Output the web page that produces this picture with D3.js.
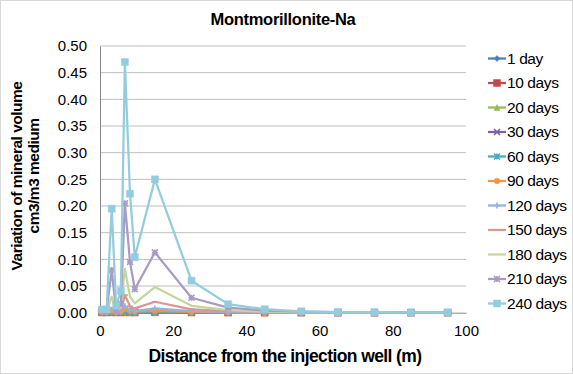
<!DOCTYPE html>
<html>
<head>
<meta charset="utf-8">
<script src="https://cdn.jsdelivr.net/npm/d3@7"></script>
<style>
  html, body { margin: 0; padding: 0; background: #fff; }
  svg { display: block; font-family: "Liberation Sans", Arial, sans-serif; }
</style>
</head>
<body>
<svg id="chart" width="573" height="374"></svg>
<script>
// Distance of each grid cell centre from the injection well (m)
const distance = [0.5, 1.8, 3.2, 4.4, 5.7, 6.8, 8.2, 9.5, 15, 25, 35, 45, 55, 65, 75, 85, 95];

// Variation of montmorillonite-Na volume (cm3/m3 medium) per elapsed time
const day1    = [0.0005, 0.0005, 0.0008, 0.0005, 0.0006, 0.0008, 0.0006, 0.0005, 0.0006, 0.0003, 0.0002, 0.0001, 0.0001, 0, 0, 0, 0];
const days10  = [0.0006, 0.0006, 0.001, 0.0006, 0.0008, 0.001, 0.0008, 0.0006, 0.0008, 0.0004, 0.0002, 0.0001, 0.0001, 0, 0, 0, 0];
const days20  = [0.0008, 0.0008, 0.0015, 0.0008, 0.001, 0.0015, 0.001, 0.0008, 0.001, 0.0005, 0.0002, 0.0001, 0, 0, 0, 0, 0];
const days30  = [0.001, 0.001, 0.002, 0.001, 0.0015, 0.0025, 0.0015, 0.001, 0.0015, 0.0006, 0.0003, 0.0001, 0.0001, 0, 0, 0, 0];
const days60  = [0.001, 0.001, 0.003, 0.001, 0.002, 0.004, 0.002, 0.0015, 0.002, 0.001, 0.0004, 0.0002, 0.0001, 0, 0, 0, 0];
const days90  = [0.001, 0.001, 0.004, 0.001, 0.002, 0.007, 0.003, 0.002, 0.0035, 0.0015, 0.0006, 0.0003, 0.0001, 0, 0, 0, 0];
const days120 = [0.0015, 0.0015, 0.005, 0.001, 0.003, 0.012, 0.005, 0.003, 0.008, 0.003, 0.001, 0.0005, 0.0002, 0.0001, 0, 0, 0];
const days150 = [0.002, 0.002, 0.008, 0.001, 0.004, 0.033, 0.012, 0.008, 0.0205, 0.0064, 0.003, 0.0015, 0.0008, 0.0004, 0.0002, 0.0001, 0.0001];
const days180 = [0.003, 0.003, 0.03, 0.002, 0.01, 0.082, 0.03, 0.0176, 0.048, 0.013, 0.005, 0.002, 0.001, 0.0005, 0.0003, 0.0002, 0.0001];
const days210 = [0.004, 0.004, 0.08, 0.003, 0.017, 0.205, 0.095, 0.044, 0.113, 0.028, 0.0094, 0.004, 0.002, 0.001, 0.0006, 0.0003, 0.0002];
const days240 = [0.006, 0.006, 0.195, 0.013, 0.041, 0.47, 0.223, 0.104, 0.25, 0.06, 0.016, 0.0065, 0.0026, 0.0012, 0.001, 0.0006, 0.0005];

const seriesNames = ["1 day", "10 days", "20 days", "30 days", "60 days", "90 days",
                     "120 days", "150 days", "180 days", "210 days", "240 days"];
const seriesValues = [day1, days10, days20, days30, days60, days90,
                      days120, days150, days180, days210, days240];
const seriesColors = ["#4A7EBB", "#BE4B48", "#98B954", "#7D60A0", "#46AAC5", "#F69240",
                      "#95B3D7", "#D99694", "#C3D69B", "#A99BC6", "#93CDDD"];
const seriesMarkers = ["diamond", "square", "triangle", "cross", "asterisk", "circle",
                       "plus", "dash", "none", "star", "square"];

const xTicks = [0, 20, 40, 60, 80, 100];
const yTicks = [0, 0.05, 0.10, 0.15, 0.20, 0.25, 0.30, 0.35, 0.40, 0.45, 0.50];

const svg = d3.select("#chart");
const W = 573, H = 374;
const plot = { left: 100, right: 466, top: 46, bottom: 312.7 };

// Chart-area frame
svg.append("rect")
  .attr("x", 0.5).attr("y", 0.5).attr("width", W - 1).attr("height", H - 1)
  .attr("fill", "#fff").attr("stroke", "#D9D9D9");

const x = d3.scaleLinear().domain([0, 100]).range([plot.left, plot.right]);
const y = d3.scaleLinear().domain([0, 0.5]).range([plot.bottom, plot.top]);

// Horizontal gridlines
svg.append("g")
  .selectAll("line")
  .data(yTicks.filter(t => t > 0))
  .join("line")
  .attr("x1", plot.left).attr("x2", plot.right)
  .attr("y1", d => y(d)).attr("y2", d => y(d))
  .attr("stroke", "#BFBFBF").attr("stroke-width", 1);

// Y axis
const yAxis = svg.append("g")
  .attr("transform", `translate(${plot.left},0)`)
  .call(d3.axisLeft(y).tickValues(yTicks).tickFormat(d3.format(".2f")).tickSize(0).tickPadding(13));
yAxis.select(".domain").attr("stroke", "#868686");
yAxis.selectAll("text").attr("font-size", 15).attr("fill", "#000")
  .attr("font-family", "Liberation Sans, Arial, sans-serif");

// X axis
const xAxis = svg.append("g")
  .attr("transform", `translate(0,${plot.bottom})`)
  .call(d3.axisBottom(x).tickValues(xTicks).tickFormat(d3.format("d")).tickSize(0).tickPadding(13));
xAxis.select(".domain").attr("stroke", "#868686");
xAxis.selectAll("text").attr("font-size", 15).attr("fill", "#000")
  .attr("font-family", "Liberation Sans, Arial, sans-serif");

// Marker shapes
function markerPath(kind, s) {
  const h = s / 2;
  switch (kind) {
    case "diamond": return `M0,${-h}L${h},0L0,${h}L${-h},0Z`;
    case "square": return `M${-h},${-h}H${h}V${h}H${-h}Z`;
    case "triangle": return `M0,${-h}L${h},${h}L${-h},${h}Z`;
    case "circle": return d3.symbol(d3.symbolCircle, s * s * 0.7)();
    default: return null;
  }
}
function drawMarker(g, kind, color, s) {
  const h = s / 2;
  if (kind === "none") return;
  if (kind === "cross" || kind === "asterisk" || kind === "plus" || kind === "dash" || kind === "star") {
    let d = "";
    if (kind === "cross" || kind === "asterisk" || kind === "star") d += `M${-h},${-h}L${h},${h}M${-h},${h}L${h},${-h}`;
    if (kind === "asterisk" || kind === "plus" || kind === "star") d += `M0,${-h}V${h}`;
    if (kind === "plus" || kind === "dash" || kind === "star") d += `M${-h},0H${h}`;
    g.append("path").attr("d", d).attr("stroke", color).attr("stroke-width", 1.6).attr("fill", "none");
  } else {
    g.append("path").attr("d", markerPath(kind, s)).attr("fill", color).attr("stroke", color).attr("stroke-width", 0.5);
  }
}

const line = d3.line().x(d => x(d[0])).y(d => y(d[1]));

const plotG = svg.append("g");
seriesValues.forEach((vals, i) => {
  const pts = distance.map((d, j) => [d, vals[j]]);
  const g = plotG.append("g");
  g.append("path").datum(pts).attr("d", line)
    .attr("fill", "none").attr("stroke", seriesColors[i]).attr("stroke-width", 2.25)
    .attr("stroke-linejoin", "round");
  const size = seriesMarkers[i] === "square" ? 7 : 6;
  pts.forEach(p => {
    const mg = g.append("g").attr("transform", `translate(${x(p[0])},${y(p[1])})`);
    drawMarker(mg, seriesMarkers[i], seriesColors[i], size);
  });
});

// Title
svg.append("text").attr("x", 283).attr("y", 25).attr("text-anchor", "middle")
  .attr("font-size", 16.5).attr("font-weight", "bold").attr("letter-spacing", -0.3)
  .text("Montmorillonite-Na");

// Axis titles
svg.append("text").attr("x", 285).attr("y", 362).attr("text-anchor", "middle")
  .attr("font-size", 17.5).attr("font-weight", "bold").attr("letter-spacing", -0.6)
  .text("Distance from the injection well (m)");

const yt = svg.append("g").attr("transform", "translate(22,176) rotate(-90)");
yt.append("text").attr("x", 0).attr("y", 0).attr("text-anchor", "middle")
  .attr("font-size", 15.5).attr("font-weight", "bold").attr("letter-spacing", -0.5)
  .text("Variation of mineral volume");
yt.append("text").attr("x", 0).attr("y", 17).attr("text-anchor", "middle")
  .attr("font-size", 15.5).attr("font-weight", "bold").attr("letter-spacing", -0.5)
  .text("cm3/m3 medium");

// Legend
const legend = svg.append("g");
seriesNames.forEach((name, i) => {
  const ly = 58.5 + i * 24.5;
  const g = legend.append("g").attr("transform", `translate(0,${ly})`);
  g.append("line").attr("x1", 488).attr("x2", 506).attr("y1", 0).attr("y2", 0)
    .attr("stroke", seriesColors[i]).attr("stroke-width", 2.25);
  const mg = g.append("g").attr("transform", "translate(497,0)");
  drawMarker(mg, seriesMarkers[i], seriesColors[i], seriesMarkers[i] === "square" ? 7 : 6);
  g.append("text").attr("x", 507).attr("y", 0).attr("dy", "0.35em")
    .attr("font-size", 15.5).attr("letter-spacing", -0.4).text(name);
});
</script>
</body>
</html>
